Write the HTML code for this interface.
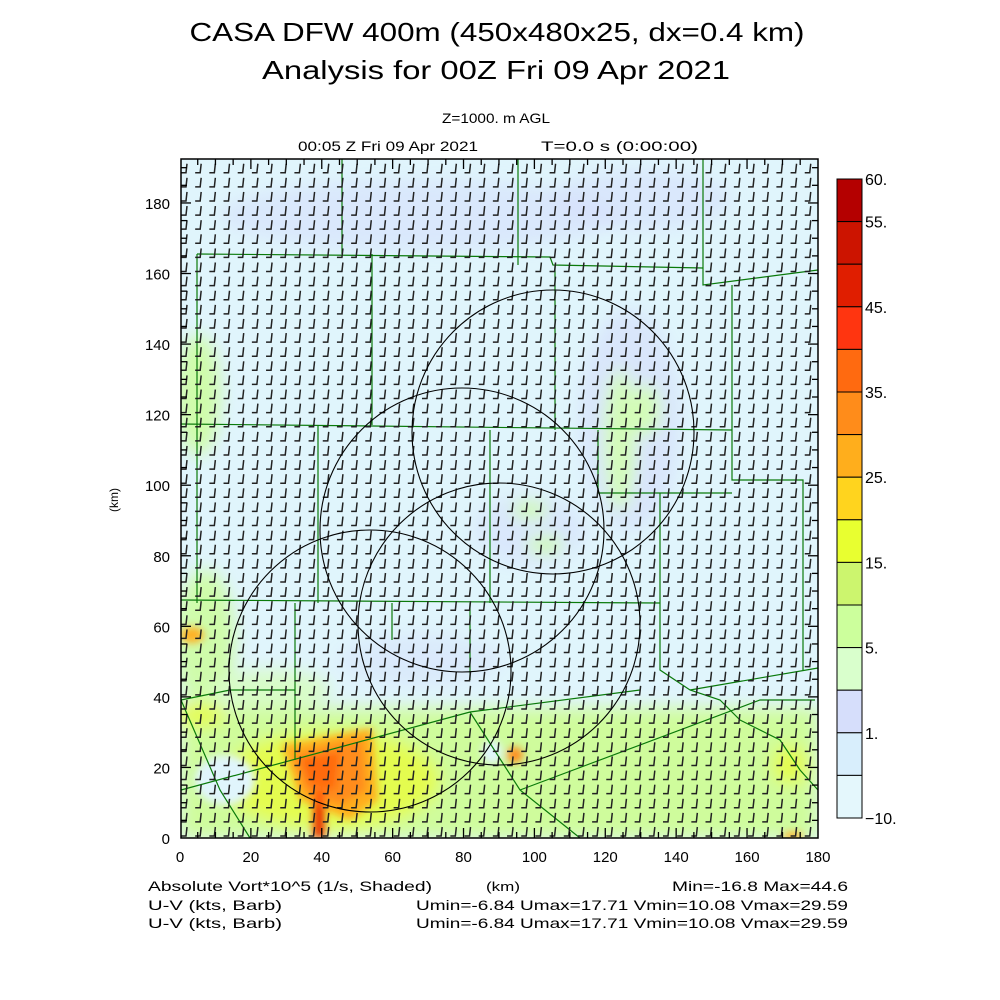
<!DOCTYPE html>
<html><head><meta charset="utf-8"><style>
html,body{margin:0;padding:0;background:#fff;}
svg{display:block;}
text{font-family:"Liberation Sans",sans-serif;fill:#000;}
</style></head><body>
<svg id="s" width="1000" height="1000" viewBox="0 0 1000 1000" xmlns="http://www.w3.org/2000/svg">
<defs>
<filter id="b1" x="-50%" y="-50%" width="200%" height="200%"><feGaussianBlur stdDeviation="8"/></filter>
<filter id="b2" x="-50%" y="-50%" width="200%" height="200%"><feGaussianBlur stdDeviation="4"/></filter>
<clipPath id="pc"><rect x="181" y="159" width="637" height="679"/></clipPath>
</defs>
<text x="497" y="41" font-size="26" text-anchor="middle" textLength="615" lengthAdjust="spacingAndGlyphs">CASA DFW 400m (450x480x25, dx=0.4 km)</text>
<text x="496" y="79" font-size="26" text-anchor="middle" textLength="468" lengthAdjust="spacingAndGlyphs">Analysis for 00Z Fri 09 Apr 2021</text>
<text x="496" y="123" font-size="14" text-anchor="middle" textLength="108" lengthAdjust="spacingAndGlyphs">Z=1000. m AGL</text>
<text x="298" y="151" font-size="14" textLength="180" lengthAdjust="spacingAndGlyphs">00:05 Z Fri 09 Apr 2021</text>
<text x="541" y="151" font-size="14" textLength="157" lengthAdjust="spacingAndGlyphs">T=0.0 s (0:00:00)</text>
<g clip-path="url(#pc)">
<rect x="181" y="159" width="637" height="679" fill="#e0f5fc"/>
<g filter="url(#b1)">
<ellipse cx="420" cy="215" rx="200" ry="35" fill="#d6dffb" opacity="0.6"/>
<ellipse cx="640" cy="200" rx="90" ry="30" fill="#d6dffb" opacity="0.6"/>
<ellipse cx="630" cy="420" rx="50" ry="110" fill="#d6dffb" opacity="0.7"/>
<ellipse cx="530" cy="530" rx="55" ry="35" fill="#d6dffb" opacity="0.6"/>
<ellipse cx="420" cy="660" rx="80" ry="25" fill="#d6dffb" opacity="0.5"/>
<ellipse cx="790" cy="800" rx="30" ry="35" fill="#d6dffb" opacity="0.7"/>
<ellipse cx="198" cy="395" rx="22" ry="60" fill="#cffcaa"/>
<ellipse cx="620" cy="440" rx="15" ry="70" fill="#d3fcb8"/>
<ellipse cx="645" cy="410" rx="15" ry="25" fill="#d3fcb8"/>
<ellipse cx="530" cy="510" rx="18" ry="8" fill="#cffcaa"/>
<ellipse cx="545" cy="545" rx="18" ry="8" fill="#cffcaa"/>
<ellipse cx="205" cy="640" rx="30" ry="70" fill="#cffcaa"/>
<ellipse cx="270" cy="690" rx="60" ry="20" fill="#d8fcc8"/>
<rect x="181" y="708" width="637" height="130" fill="#cffc9c"/>
<ellipse cx="330" cy="780" rx="110" ry="50" fill="#e4fc50"/>
<ellipse cx="200" cy="715" rx="25" ry="12" fill="#e4fc50"/>
<ellipse cx="790" cy="765" rx="18" ry="20" fill="#e4fc50"/>
</g>
<g filter="url(#b2)">
<ellipse cx="192" cy="635" rx="12" ry="8" fill="#ffb020"/>
<ellipse cx="225" cy="780" rx="30" ry="25" fill="#e0f5fc"/>
<path d="M282 745 L372 728 L378 800 L350 820 L300 800 Z" fill="#ffae1c"/>
<path d="M292 755 L362 738 L366 790 L340 805 L305 790 Z" fill="#ff8c1a"/>
<path d="M300 758 L340 752 L335 790 L310 785 Z" fill="#ff6a10"/>
<rect x="313" y="790" width="12" height="48" fill="#ff5a10"/>
<rect x="316" y="805" width="7" height="33" fill="#e01a00"/>
<ellipse cx="515" cy="755" rx="8" ry="8" fill="#ff8c1a"/>
<ellipse cx="492" cy="752" rx="10" ry="12" fill="#e0f5fc"/>
<ellipse cx="793" cy="836" rx="10" ry="4" fill="#ffae1c"/>
</g>
</g>
<g id="county" fill="none" stroke="#0a7a0a" stroke-width="1.2"></g>
<g id="barbs" fill="none" stroke="#222" stroke-width="1.5"></g>
<g id="circ" fill="none" stroke="#000" stroke-width="1.1">
<ellipse cx="553" cy="432" rx="141" ry="142"/>
<ellipse cx="462" cy="530" rx="142" ry="142"/>
<ellipse cx="499" cy="624" rx="141" ry="141"/>
<ellipse cx="370" cy="671" rx="141" ry="141"/>
</g>
<rect x="181" y="159" width="637" height="679" fill="none" stroke="#000" stroke-width="1.5"/>
<g id="ticks" stroke="#000" stroke-width="1.3"></g>
<g id="labels" font-size="15"></g>
<g id="cbar"></g>
<text x="118" y="500" font-size="12" text-anchor="middle" transform="rotate(-90 118 500)">(km)</text>
<text x="148" y="891" font-size="14" textLength="284" lengthAdjust="spacingAndGlyphs">Absolute Vort*10^5 (1/s, Shaded)</text>
<text x="486" y="891" font-size="13" textLength="34" lengthAdjust="spacingAndGlyphs">(km)</text>
<text x="672" y="891" font-size="14" textLength="176" lengthAdjust="spacingAndGlyphs">Min=-16.8 Max=44.6</text>
<text x="148" y="910" font-size="14" fill="#333" textLength="134" lengthAdjust="spacingAndGlyphs">U-V (kts, Barb)</text>
<text x="416" y="910" font-size="14" textLength="432" lengthAdjust="spacingAndGlyphs">Umin=-6.84 Umax=17.71 Vmin=10.08 Vmax=29.59</text>
<text x="148" y="928" font-size="14" fill="#333" textLength="134" lengthAdjust="spacingAndGlyphs">U-V (kts, Barb)</text>
<text x="416" y="928" font-size="14" textLength="432" lengthAdjust="spacingAndGlyphs">Umin=-6.84 Umax=17.71 Vmin=10.08 Vmax=29.59</text>
</svg>
<script>
(function(){
var NS="http://www.w3.org/2000/svg";
function el(p,t,a,txt){var e=document.createElementNS(NS,t);for(var k in a)e.setAttribute(k,a[k]);if(txt!=null)e.textContent=txt;document.getElementById(p).appendChild(e);return e;}
var X=function(v){return 180+v*3.544;},Y=function(v){return 838-v*3.528;};
var d="";
for(var i=0;i<=45;i++){for(var j=-1;j<=48;j++){
 var x=X(i*4)+6, y=Y(j*4)-2;
 if(x<176||x>822||y<168||y>850)continue;
 d+="M"+(x+1)+" "+(y-9)+"L"+x+" "+y+"L"+(x-5)+" "+y;
}}
el("barbs","path",{d:d});
var cl=["M342 159L342 254","M197 254L550 257L553 265L703 268","M197 254L197 603","M372 254L372 425","M518 159L518 265","M555 265L555 430",
"M703 159L703 285L818 270","M732 285L732 480L803 480L803 670","M181 424L372 426L732 430","M318 426L318 603","M490 430L490 603","M598 430L598 493L732 493",
"M660 493L660 603","M181 600L660 603","M295 603L295 760","M392 603L392 640","M470 603L470 680","M181 700L230 690L295 690","M660 603L660 670L690 690L720 700L740 720L780 740L800 770L818 790",
"M181 790L470 712L640 690","M470 712L520 790L580 838","M520 790L760 700L815 700","M181 700L220 790L250 838","M690 690L818 668"];
cl.forEach(function(p){el("county","path",{d:p});});
for(var v=5;v<180;v+=5){var L=(v%20==0)?10:6;
 el("ticks","line",{x1:X(v),y1:838,x2:X(v),y2:838-L});
 el("ticks","line",{x1:X(v),y1:159,x2:X(v),y2:159+L});
}
for(var v=5;v<=190;v+=5){var L=(v%20==0)?10:6;
 el("ticks","line",{x1:181,y1:Y(v),x2:181+L,y2:Y(v)});
 el("ticks","line",{x1:818,y1:Y(v),x2:818-L,y2:Y(v)});
}
for(var v=0;v<=180;v+=20){
 el("labels","text",{x:X(v),y:862,"text-anchor":"middle"},String(v));
 el("labels","text",{x:170,y:Y(v)+6,"text-anchor":"end"},String(v));
}
var cols=["#b40000","#cc1400","#e01e00","#ff3510","#ff6a10","#ff8c1a","#ffae1c","#ffd41e","#e8ff30","#ccf56e","#ccff9c","#d9ffcc","#d6defb","#d8eefc","#e4f7fc"];
var t0=179,h=(818-179)/15;
cols.forEach(function(c,k){el("cbar","rect",{x:837,y:t0+k*h,width:25,height:h,fill:c,stroke:"#000","stroke-width":1});});
var labs=[["60.",0],["55.",1],["45.",3],["35.",5],["25.",7],["15.",9],["5.",11],["1.",13],["\u221210.",15]];
labs.forEach(function(l){el("cbar","text",{x:865,y:t0+l[1]*h+6,"font-size":"16"},l[0]);});
})();
</script>
</body></html>
